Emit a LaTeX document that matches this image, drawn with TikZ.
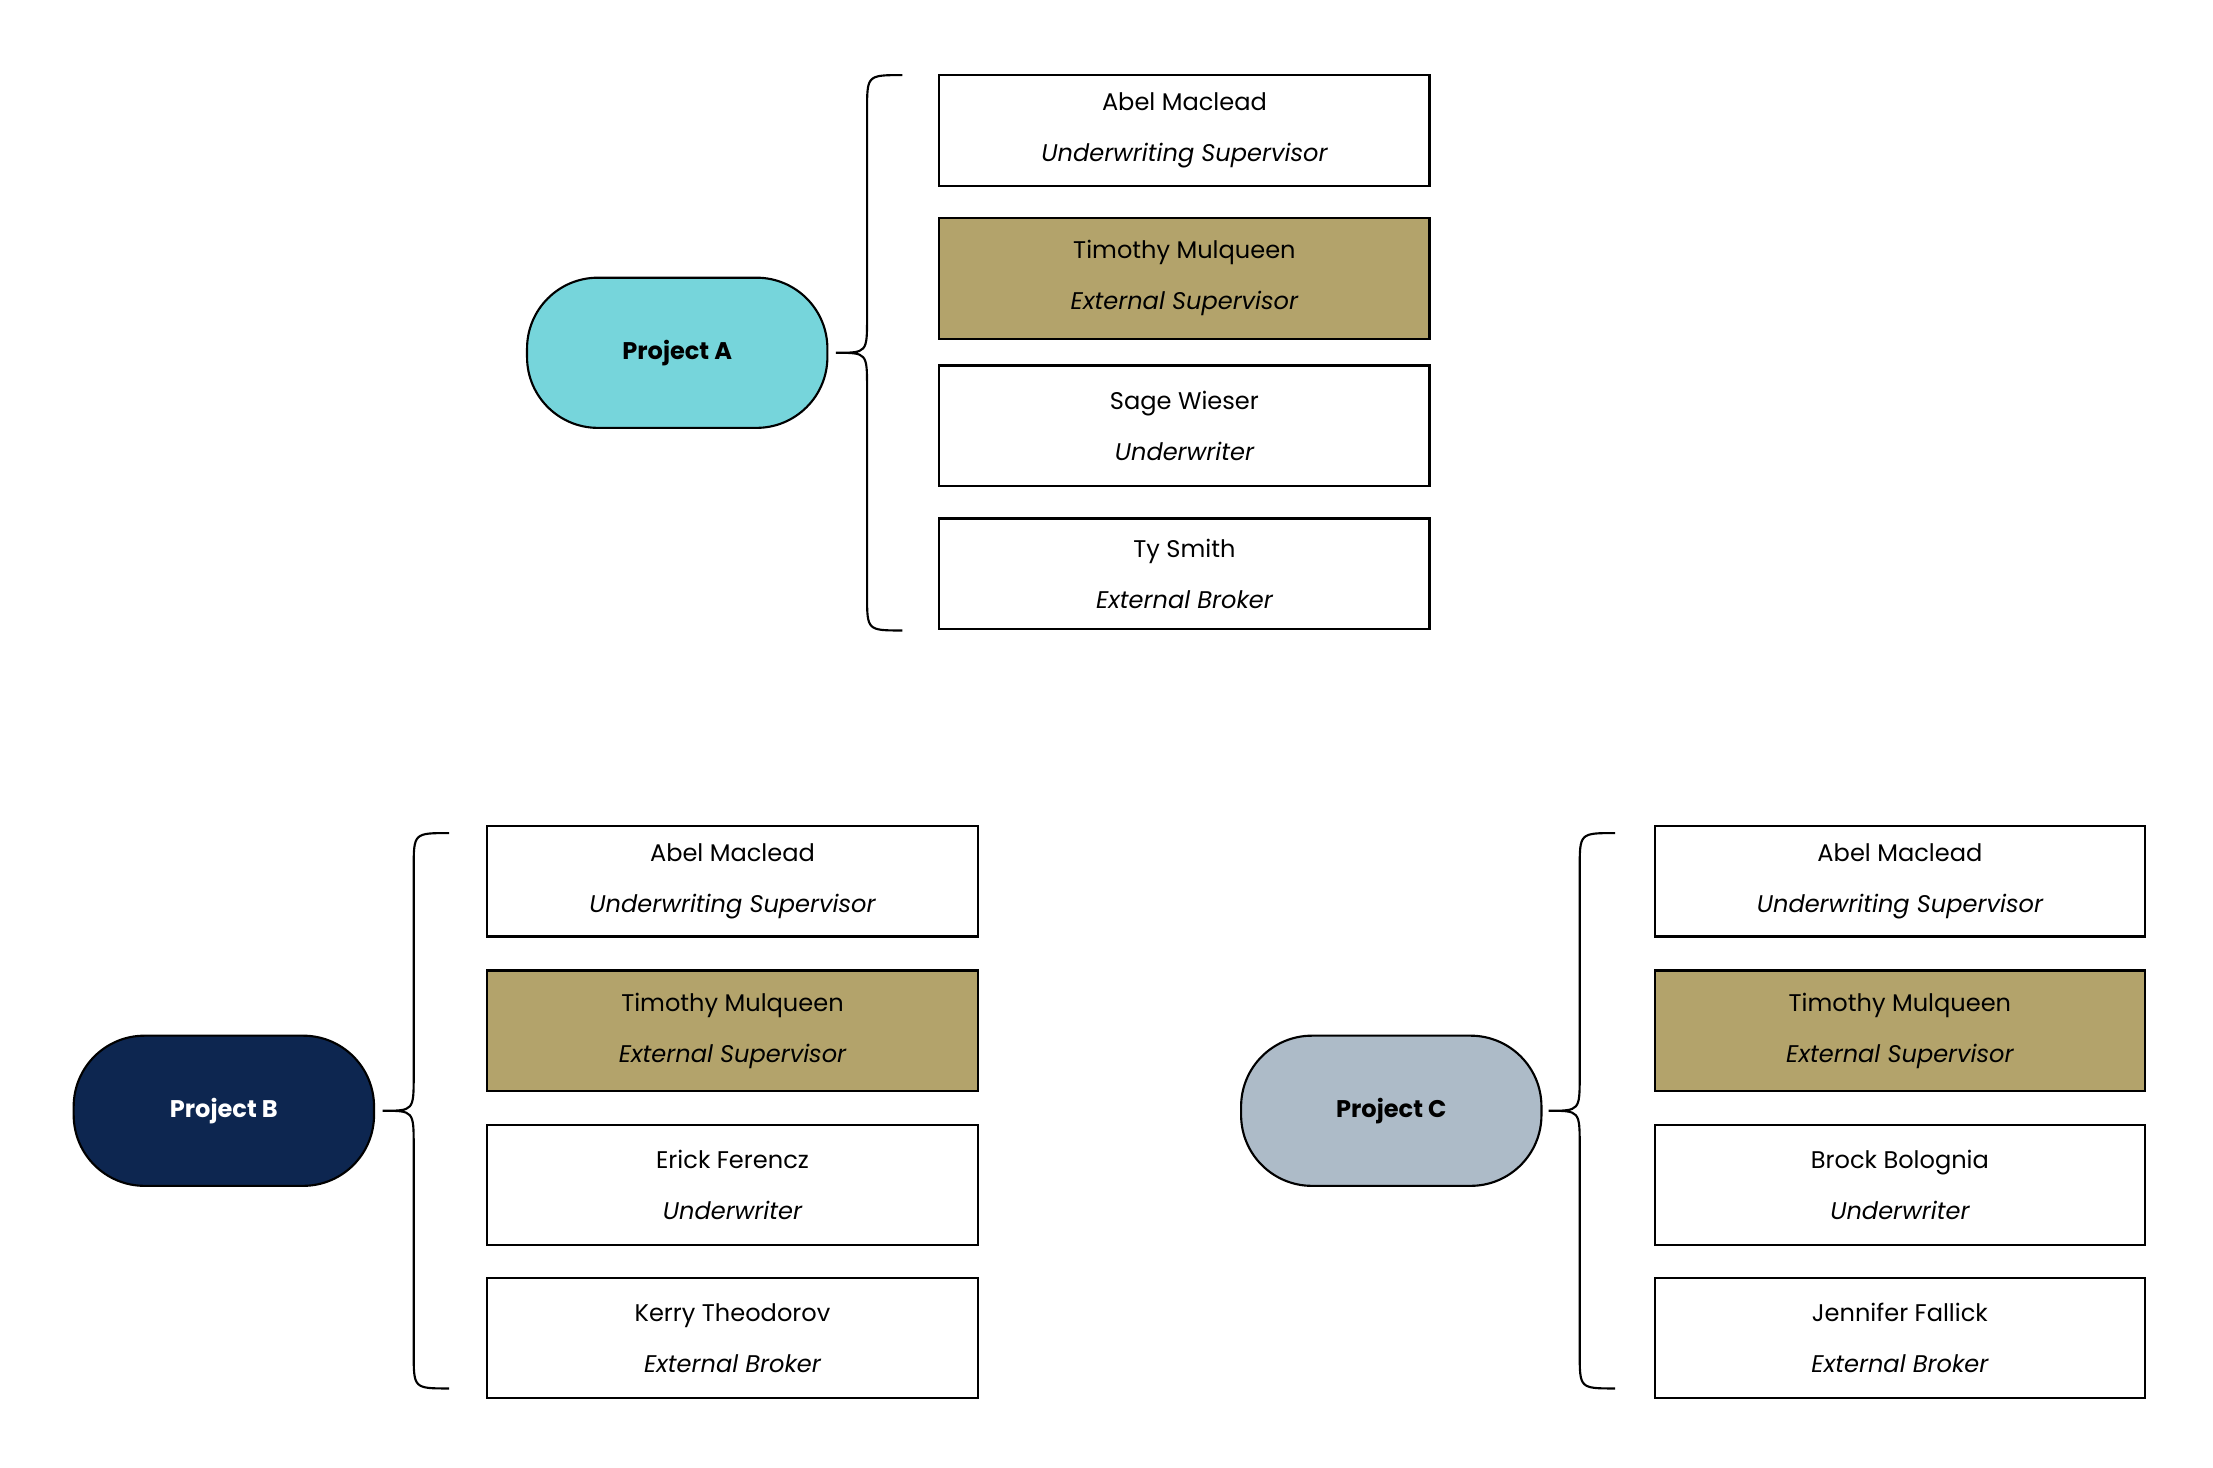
\documentclass[tikz,border=0pt]{standalone}
\usepackage{fontspec}
\setmainfont{Poppins}
\begin{document}
\begin{tikzpicture}[x=1pt,y=-1pt,
  proj/.style={draw=black,line width=1.5pt,rounded corners=50pt,minimum width=212pt,minimum height=106pt,font=\fontsize{17}{20}\selectfont\bfseries},
  box/.style={draw=black,line width=1.5pt,minimum width=346pt,align=center,font=\fontsize{17}{36}\selectfont,inner sep=0pt},
  brace/.style={draw=black,line width=1.5pt}]
\useasboundingbox (0,0) rectangle (1562,1036);
\definecolor{cyanA}{HTML}{76D5DB}
\definecolor{gold}{HTML}{B3A36B}
\definecolor{navy}{HTML}{0D2650}
\definecolor{greyC}{HTML}{ADBBC8}
\newcommand{\grp}[8]{%
  % #1 prefix, #2 pill x, #3 pill y, #4 fill, #5 text colour, #6 label, #7 brace x, #8 box x
  \node[proj,fill=#4,text=#5] (#1p) at (#2,#3) {#6};
  \coordinate (#1t) at (#7+47,#3-196);
  \coordinate (#1b) at (#7+47,#3+196);
  \coordinate (#1m) at (#7,#3);
  \draw[brace] (#1t) .. controls (#7+22,#3-196) .. (#7+22,#3-171) -- (#7+22,#3-25) .. controls (#7+22,#3) .. (#1m)
    .. controls (#7+22,#3) .. (#7+22,#3+25) -- (#7+22,#3+171) .. controls (#7+22,#3+196) .. (#1b);
}
\grp{a}{478}{249}{cyanA}{black}{Project A}{590}{}
\grp{b}{158}{784}{navy}{white}{Project B}{270}{}
\grp{c}{982}{784}{greyC}{black}{Project C}{1093}{}
\newcommand{\bx}[6]{\node[box,minimum height=#4pt,fill=#5] (#1) at (#2,#3) {#6};}
% A
\bx{a1}{836}{92}{78}{white}{Abel Maclead\\\itshape Underwriting Supervisor}
\bx{a2}{836}{196.5}{85}{gold}{Timothy Mulqueen\\\itshape External Supervisor}
\bx{a3}{836}{300.5}{85}{white}{Sage Wieser\\\itshape Underwriter}
\bx{a4}{836}{405}{78}{white}{Ty Smith\\\itshape External Broker}
% B
\bx{b1}{517}{622}{78}{white}{Abel Maclead\\\itshape Underwriting Supervisor}
\bx{b2}{517}{727.5}{85}{gold}{Timothy Mulqueen\\\itshape External Supervisor}
\bx{b3}{517}{836.5}{85}{white}{Erick Ferencz\\\itshape Underwriter}
\bx{b4}{517}{944.5}{85}{white}{Kerry Theodorov\\\itshape External Broker}
% C
\bx{c1}{1341}{622}{78}{white}{Abel Maclead\\\itshape Underwriting Supervisor}
\bx{c2}{1341}{727.5}{85}{gold}{Timothy Mulqueen\\\itshape External Supervisor}
\bx{c3}{1341}{836.5}{85}{white}{Brock Bolognia\\\itshape Underwriter}
\bx{c4}{1341}{944.5}{85}{white}{Jennifer Fallick\\\itshape External Broker}
\end{tikzpicture}
\end{document}
